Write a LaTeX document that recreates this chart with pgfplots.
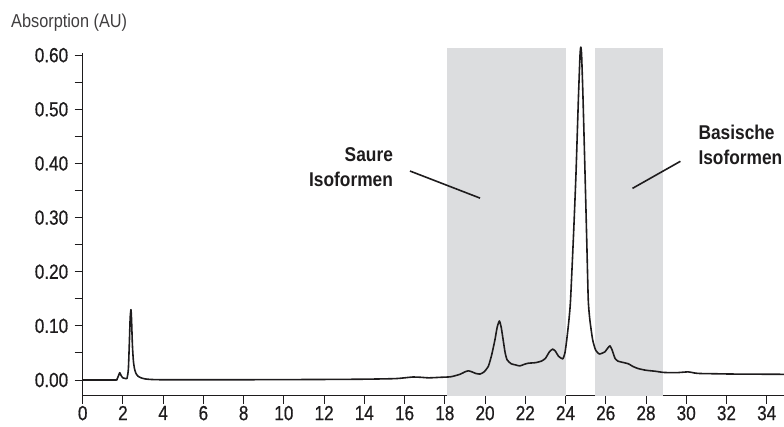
\documentclass[border=0pt]{standalone}
\usepackage{fontspec}
\setmainfont{Liberation Sans}[FakeStretch=0.87]
\newfontfamily\tickfont{Liberation Sans}[FakeStretch=0.84, FakeBold=0.6]
\usepackage{pgfplots}
\pgfplotsset{compat=1.18}
\definecolor{band}{RGB}{220,221,223}
\definecolor{ink}{RGB}{30,28,29}
\begin{document}
\begin{tikzpicture}
\useasboundingbox (0,0) rectangle (784bp,427bp);
\begin{axis}[
  at={(82.7bp,31.3bp)}, anchor=south west,
  scale only axis, width=701.3bp, height=342.4bp,
  xmin=0, xmax=34.86, ymin=-0.029, ymax=0.6035,
  clip=false,
  axis x line=bottom, axis y line=left,
  axis line style={-, line width=1pt, ink},
  tick align=outside,
  major tick length=8bp, minor tick length=8bp,
  tick style={line width=1pt, ink},
  xtick={0,2,...,34},
  ytick={0,0.1,...,0.6},
  minor ytick={0.05,0.15,...,0.55},
  /pgf/number format/assume math mode=true,
  yticklabel style={/pgf/number format/fixed, /pgf/number format/fixed zerofill, /pgf/number format/precision=2, xshift=-3bp},
  ticklabel style={font=\tickfont\fontsize{20.5}{21}\selectfont, text=ink},
  xticklabel style={yshift=-1bp, inner sep=1bp},
]
\fill[band] (axis cs:18.1,-0.029) rectangle (axis cs:24.03,0.614);
\fill[band] (axis cs:25.46,-0.029) rectangle (axis cs:28.83,0.614);
\addplot[ink, line width=1.6pt, smooth, tension=0.35, line join=round] coordinates {
(0,0) (1.6,0) (1.7,0.001) (1.78,0.008) (1.84,0.0135) (1.9,0.009) (1.99,0.004)
(2.1,0.003) (2.2,0.003) (2.27,0.02) (2.32,0.07) (2.36,0.115) (2.40,0.130)
(2.43,0.11) (2.47,0.065) (2.52,0.035) (2.58,0.02) (2.65,0.012) (2.75,0.007)
(2.9,0.004) (3.1,0.002) (3.4,0.001) (4,0.0005) (8,0.0005) (12,0.001) (14,0.0015)
(15.5,0.0025) (16.0,0.004) (16.4,0.0055) (16.8,0.005) (17.2,0.004) (17.8,0.005)
(18.3,0.006) (18.75,0.0105) (19.0,0.015) (19.17,0.017) (19.35,0.015) (19.55,0.012)
(19.75,0.011) (19.95,0.015) (20.16,0.025) (20.32,0.045) (20.49,0.074) (20.6,0.097)
(20.71,0.109) (20.8,0.098) (20.9,0.074) (21.0,0.05) (21.1,0.037) (21.3,0.030)
(21.5,0.028) (21.73,0.026) (21.95,0.029) (22.15,0.031) (22.5,0.032) (22.81,0.035)
(23.0,0.040) (23.2,0.052) (23.36,0.057) (23.5,0.053) (23.65,0.044) (23.86,0.039)
(23.97,0.05) (24.06,0.074) (24.17,0.111) (24.25,0.148) (24.4,0.27) (24.52,0.381)
(24.64,0.52) (24.72,0.6) (24.76,0.615) (24.8,0.6) (24.87,0.52) (24.97,0.381)
(25.06,0.25) (25.13,0.148) (25.21,0.111) (25.35,0.074) (25.5,0.055) (25.68,0.048)
(25.85,0.05) (25.96,0.052) (26.1,0.059) (26.21,0.063) (26.32,0.055) (26.46,0.040)
(26.6,0.035) (26.79,0.033) (27.12,0.030) (27.35,0.025) (27.62,0.021) (28.0,0.018)
(28.5,0.016) (28.86,0.014) (29.5,0.0135) (30.1,0.015) (30.4,0.013) (30.68,0.012)
(31.5,0.0115) (32.34,0.011) (34.86,0.0105)
};
\draw[ink, line width=1.6pt] (axis cs:16.27,0.386) -- (axis cs:19.75,0.336);
\draw[ink, line width=1.6pt] (axis cs:29.71,0.404) -- (axis cs:27.33,0.354);
\node[anchor=base east, align=right, font=\fontsize{20}{25}\selectfont\bfseries, text=ink, inner sep=0pt]
  at (axis cs:15.43,0.358) {Saure\\Isoformen};
\node[anchor=base west, align=left, font=\fontsize{20}{25}\selectfont\bfseries, text=ink, inner sep=0pt]
  at (axis cs:30.6,0.3985) {Basische\\Isoformen};
\end{axis}
\node[anchor=base west, inner sep=0pt, font=\fontsize{18.8}{20}\selectfont, text=ink!85] at (11bp,399bp) {Absorption (AU)};
\end{tikzpicture}
\end{document}
